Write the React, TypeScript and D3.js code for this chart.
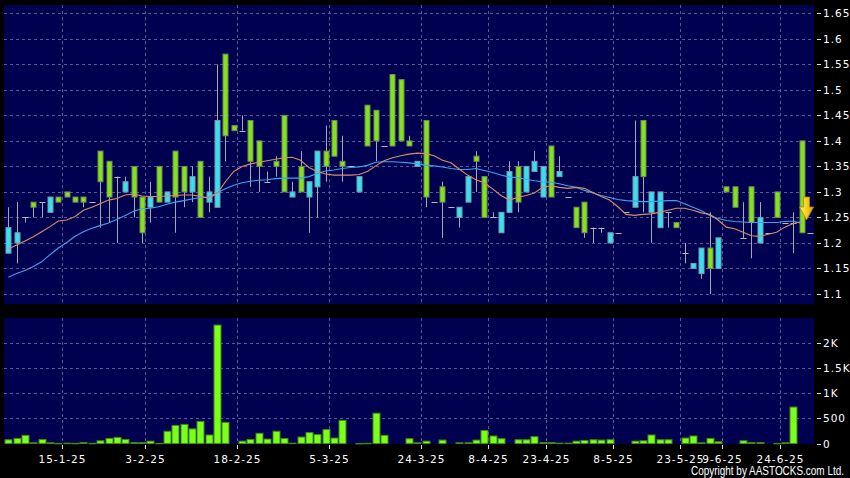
import React from 'react';
import * as d3 from 'd3';

// ---- data ----
const opens = [1.18,1.20,1.25,1.28,1.28,1.26,1.29,1.30,1.29,1.29,1.28,1.38,1.36,1.33,1.30,1.35,1.29,1.27,1.35,1.28,1.38,1.35,1.30,1.36,1.28,1.27,1.57,1.43,1.42,1.44,1.40,1.32,1.36,1.45,1.29,1.35,1.29,1.31,1.38,1.44,1.36,1.35,1.30,1.47,1.46,1.39,1.53,1.52,1.40,1.35,1.44,1.28,1.31,1.27,1.25,1.28,1.37,1.33,1.25,1.22,1.26,1.35,1.30,1.34,1.29,1.39,1.33,1.29,1.27,1.28,1.23,1.23,1.20,1.22,1.26,1.27,1.44,1.26,1.23,1.26,1.24,1.18,1.15,1.14,1.19,1.15,1.31,1.31,1.21,1.31,1.20,1.22,1.30,1.24,1.24,1.40,1.22];
const highs = [1.27,1.28,1.25,1.28,1.28,1.29,1.29,1.30,1.29,1.29,1.28,1.38,1.36,1.33,1.33,1.35,1.29,1.32,1.35,1.30,1.38,1.35,1.35,1.36,1.33,1.55,1.57,1.43,1.45,1.44,1.40,1.34,1.37,1.45,1.32,1.38,1.32,1.38,1.43,1.44,1.41,1.35,1.33,1.47,1.46,1.39,1.53,1.52,1.41,1.36,1.44,1.28,1.32,1.27,1.27,1.33,1.38,1.33,1.26,1.26,1.36,1.36,1.35,1.38,1.35,1.39,1.37,1.29,1.27,1.28,1.23,1.23,1.22,1.22,1.26,1.44,1.44,1.30,1.30,1.26,1.24,1.20,1.16,1.19,1.26,1.21,1.31,1.31,1.28,1.31,1.28,1.22,1.30,1.24,1.26,1.40,1.22];
const lows = [1.18,1.16,1.24,1.25,1.25,1.26,1.28,1.29,1.28,1.27,1.28,1.23,1.24,1.20,1.30,1.25,1.20,1.24,1.28,1.28,1.22,1.27,1.28,1.25,1.26,1.27,1.36,1.42,1.42,1.31,1.30,1.32,1.33,1.30,1.29,1.30,1.22,1.25,1.32,1.37,1.32,1.35,1.30,1.39,1.36,1.39,1.39,1.40,1.39,1.35,1.27,1.28,1.21,1.27,1.23,1.28,1.30,1.25,1.25,1.22,1.26,1.26,1.30,1.34,1.29,1.29,1.33,1.29,1.23,1.21,1.20,1.22,1.20,1.22,1.26,1.27,1.26,1.20,1.23,1.23,1.23,1.16,1.15,1.13,1.10,1.15,1.30,1.27,1.21,1.17,1.20,1.22,1.25,1.24,1.18,1.22,1.22];
const closes = [1.23,1.22,1.25,1.27,1.28,1.29,1.28,1.29,1.28,1.28,1.28,1.32,1.29,1.33,1.32,1.29,1.22,1.29,1.28,1.30,1.29,1.30,1.33,1.25,1.30,1.44,1.41,1.42,1.42,1.36,1.35,1.32,1.35,1.30,1.30,1.30,1.32,1.38,1.35,1.37,1.35,1.35,1.33,1.39,1.40,1.39,1.39,1.40,1.39,1.36,1.29,1.28,1.28,1.27,1.27,1.33,1.36,1.25,1.25,1.26,1.34,1.28,1.35,1.36,1.35,1.29,1.34,1.29,1.23,1.22,1.23,1.23,1.22,1.22,1.26,1.33,1.33,1.30,1.30,1.26,1.23,1.18,1.16,1.19,1.15,1.21,1.30,1.27,1.21,1.24,1.25,1.22,1.25,1.24,1.24,1.22,1.22];
const volumes = [74,101,162,14,81,14,3,7,4,20,4,54,101,122,81,20,20,47,4,243,358,378,290,439,169,2350,419,0,47,81,203,88,243,101,7,128,216,176,277,108,459,0,2,4,601,162,0,0,95,14,47,0,68,0,14,14,68,257,149,95,0,74,74,135,20,20,7,7,47,61,74,68,74,0,0,47,54,169,74,74,0,108,149,14,101,34,0,0,54,20,20,0,3,14,723,0,0];
const maShort = [1.188,1.196,1.204,1.212,1.222,1.232,1.243,1.245,1.252,1.264,1.270,1.277,1.284,1.287,1.294,1.296,1.292,1.291,1.291,1.292,1.293,1.294,1.294,1.291,1.288,1.297,1.320,1.340,1.350,1.355,1.358,1.361,1.364,1.367,1.368,1.362,1.348,1.340,1.335,1.333,1.333,1.333,1.334,1.340,1.351,1.361,1.367,1.371,1.374,1.376,1.375,1.371,1.362,1.357,1.345,1.333,1.324,1.318,1.306,1.293,1.284,1.289,1.293,1.298,1.309,1.312,1.309,1.307,1.309,1.307,1.299,1.291,1.284,1.271,1.256,1.254,1.256,1.257,1.260,1.264,1.268,1.268,1.264,1.259,1.256,1.245,1.231,1.228,1.221,1.214,1.213,1.217,1.221,1.231,1.238,1.242];
const maLong = [1.133,1.140,1.146,1.154,1.163,1.177,1.190,1.201,1.213,1.222,1.229,1.234,1.239,1.246,1.254,1.262,1.267,1.268,1.271,1.276,1.280,1.283,1.286,1.289,1.290,1.298,1.306,1.313,1.318,1.321,1.323,1.324,1.326,1.327,1.327,1.327,1.330,1.336,1.341,1.343,1.346,1.348,1.349,1.352,1.358,1.359,1.359,1.358,1.357,1.355,1.352,1.351,1.349,1.346,1.344,1.344,1.346,1.342,1.338,1.333,1.329,1.328,1.325,1.322,1.320,1.319,1.316,1.312,1.309,1.303,1.298,1.293,1.289,1.285,1.283,1.282,1.281,1.281,1.282,1.283,1.283,1.277,1.270,1.263,1.254,1.248,1.244,1.242,1.241,1.240,1.240,1.240,1.240,1.242,1.243,1.238];
const dateTickIndex = [6,16,27,38,49,57,64,72,80,85,92];
const dateTickLabels = ['15-1-25','3-2-25','18-2-25','5-3-25','24-3-25','8-4-25','23-4-25','8-5-25','23-5-25','9-6-25','24-6-25'];
const priceTicks = [1.1,1.15,1.2,1.25,1.3,1.35,1.4,1.45,1.5,1.55,1.6,1.65];
const priceTickLabels = ['1.1','1.15','1.2','1.25','1.3','1.35','1.4','1.45','1.5','1.55','1.6','1.65'];
const volTicks = [0,500,1000,1500,2000];
const volTickLabels = ['0','500','1K','1.5K','2K'];
const arrowIndex = 95;
const arrowPrice = 1.245;

// ---- layout / style ----
const W = 850, H = 478;
const PL = 4, PR = 814;
const MAIN_TOP = 5, MAIN_BOT = 304;
const VOL_TOP = 318, VOL_BOT = 444;
const BG = '#000050';
const GRID = '#5a5a8e';
const UP = '#35e1ef';
const DOWN = '#84e21c';
const VOLC = '#7dff1e';
const FONT = 'DejaVu Sans, sans-serif';

export default function App() {
  const xs = d3.scaleLinear().domain([0, 96]).range([8.3, 809.9]);
  const ys = d3.scaleLinear().domain([1.1, 1.65]).range([294, 13.3]);
  const yv = d3.scaleLinear().domain([0, 2000]).range([443.5, 342.7]);
  const gx = (i: number) => Math.round(xs(i) + 3.5) + 0.5;
  const gy = (v: number) => Math.round(v) + 0.5;

  const lineShort = d3.line<number>().x((_, i) => xs(i)).y(d => ys(d));
  const lineLong = d3.line<number>().x((_, i) => xs(i)).y(d => ys(d));

  const ax = xs(arrowIndex) + 5;
  const ay = ys(arrowPrice);

  return (
    <svg width={W} height={H} style={{ position: 'absolute', left: 0, top: 0, display: 'block' }}>
      <defs>
        <clipPath id="mainClip"><rect x={PL} y={MAIN_TOP} width={PR - PL} height={MAIN_BOT - MAIN_TOP} /></clipPath>
        <linearGradient id="arrowGrad" x1="0" x2="1" y1="0" y2="0">
          <stop offset="0" stopColor="#fff07a" />
          <stop offset="0.5" stopColor="#f7cf1c" />
          <stop offset="1" stopColor="#d9a400" />
        </linearGradient>
      </defs>
      <rect x={0} y={0} width={W} height={H} fill="#000" />
      <rect x={PL} y={MAIN_TOP} width={PR - PL} height={MAIN_BOT - MAIN_TOP} fill={BG} />
      <rect x={PL} y={VOL_TOP} width={PR - PL} height={VOL_BOT - VOL_TOP} fill={BG} />

      {/* grids */}
      <g stroke={GRID} strokeWidth={1} strokeDasharray="3,3" fill="none">
        {priceTicks.map((p, k) => (
          <line key={'hp' + k} x1={PL} x2={PR} y1={gy(ys(p))} y2={gy(ys(p))} />
        ))}
        {volTicks.filter(v => v > 0).map((v, k) => (
          <line key={'hv' + k} x1={PL} x2={PR} y1={gy(yv(v))} y2={gy(yv(v))} />
        ))}
        {dateTickIndex.map((i, k) => (
          <g key={'vg' + k}>
            <line x1={gx(i)} x2={gx(i)} y1={MAIN_TOP} y2={MAIN_BOT} />
            <line x1={gx(i)} x2={gx(i)} y1={VOL_TOP} y2={VOL_BOT} />
          </g>
        ))}
      </g>

      {/* candles */}
      <g clipPath="url(#mainClip)">
        {opens.map((o, i) => {
          const c = closes[i], h = highs[i], l = lows[i];
          const x = Math.round(xs(i));
          const flat = Math.abs(o - c) < 0.0005;
          const top = ys(Math.max(o, c)), bot = ys(Math.min(o, c));
          return (
            <g key={'c' + i}>
              {h - l > 0.0005 && (
                <line x1={x + 0.5} x2={x + 0.5} y1={ys(h)} y2={ys(l)} stroke="#a8a8b0" strokeWidth={1} />
              )}
              {flat ? (
                <line x1={x - 2.5} x2={x + 3.5} y1={gy(ys(c))} y2={gy(ys(c))} stroke="#b8b8c0" strokeWidth={1} />
              ) : (
                <rect x={x - 2} y={top} width={5} height={bot - top}
                  fill={c > o ? UP : DOWN} stroke={c > o ? '#7d9aa6' : '#6f8a55'} strokeWidth={1} />
              )}
            </g>
          );
        })}
        <path d={lineLong(maLong) || ''} fill="none" stroke="#3aa6ee" strokeWidth={1.1} />
        <path d={lineShort(maShort) || ''} fill="none" stroke="#dd8a68" strokeWidth={1.1} />
        {/* down arrow marker */}
        <path
          d={`M${ax - 3},${ay - 23} L${ax + 3},${ay - 23} L${ax + 3},${ay - 13} L${ax + 7},${ay - 13} L${ax},${ay} L${ax - 7},${ay - 13} L${ax - 3},${ay - 13} Z`}
          fill="url(#arrowGrad)" stroke="#b38600" strokeWidth={0.8} />
      </g>

      {/* volume bars */}
      <g>
        {volumes.map((v, i) => {
          if (v <= 0) return null;
          const x = Math.round(xs(i));
          const t = yv(v);
          return (
            <rect key={'v' + i} x={x - 3} y={t} width={7} height={Math.max(0.5, VOL_BOT - 0.5 - t)}
              fill={VOLC} stroke="#3f8a14" strokeWidth={1} />
          );
        })}
      </g>

      {/* axes */}
      <g fill="#fff" fontFamily={FONT} fontSize={10.5} letterSpacing={1}>
        {priceTicks.map((p, k) => (
          <g key={'pt' + k}>
            <line x1={817} x2={821} y1={gy(ys(p))} y2={gy(ys(p))} stroke="#ddd" />
            <text x={823} y={ys(p)} dominantBaseline="central">{priceTickLabels[k]}</text>
          </g>
        ))}
        {volTicks.map((v, k) => (
          <g key={'vt' + k}>
            <line x1={817} x2={821} y1={gy(yv(v))} y2={gy(yv(v))} stroke="#ddd" />
            <text x={823} y={yv(v)} dominantBaseline="central">{volTickLabels[k]}</text>
          </g>
        ))}
        {dateTickIndex.map((i, k) => (
          <g key={'dt' + k}>
            <line x1={gx(i)} x2={gx(i)} y1={445} y2={449} stroke="#ddd" />
            <text x={gx(i)} y={462.5} textAnchor="middle">{dateTickLabels[k]}</text>
          </g>
        ))}
      </g>
      <g transform="translate(844,474.5) scale(0.83,1)">
        <text x={0} y={0} textAnchor="end" fill="#fff" fontFamily="Liberation Sans, Arial, sans-serif"
          fontSize={12}>Copyright by AASTOCKS.com Ltd.</text>
      </g>
    </svg>
  );
}
